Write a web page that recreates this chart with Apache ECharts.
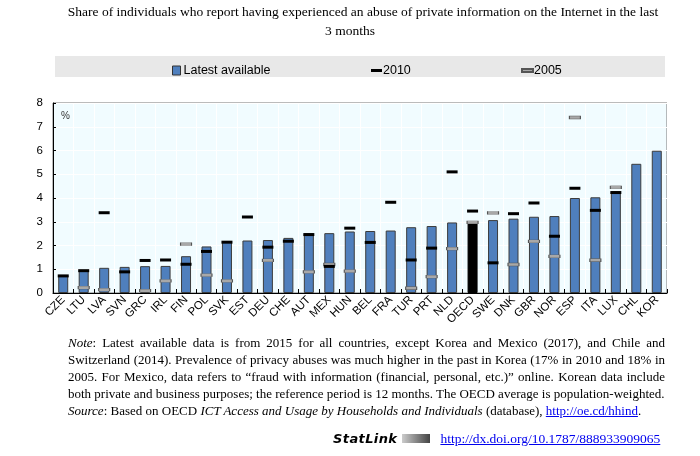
<!DOCTYPE html>
<html><head><meta charset="utf-8">
<script src="https://cdn.jsdelivr.net/npm/echarts@6/dist/echarts.min.js"></script>
<style>
html,body{margin:0;padding:0;background:#fff;width:700px;height:456px;overflow:hidden}
#c{position:absolute;left:0;top:0;width:700px;height:456px}
#note{position:absolute;left:68px;top:334px;width:597px;font-family:"Liberation Serif","Times New Roman",serif;font-size:13px;line-height:17px;text-align:justify;color:#000}
#stat{position:absolute;left:333px;top:431px;font-family:"Liberation Serif",serif;font-size:13.5px;color:#000;white-space:nowrap}
#stat b{font-family:"DejaVu Sans",sans-serif;font-style:italic;font-size:13px;letter-spacing:0.4px;margin-right:5px}
#stat .ic{display:inline-block;width:28px;height:9px;background:linear-gradient(90deg,#ccc,#444);margin-right:10px;vertical-align:0px}
a{color:#0000ee}
</style></head><body>
<div id="c"></div>
<div id="note"><i>Note</i>: Latest available data is from 2015 for all countries, except Korea and Mexico (2017), and Chile and Switzerland (2014). Prevalence of privacy abuses was much higher in the past in Korea (17% in 2010 and 18% in 2005. For Mexico, data refers to “fraud with information (financial, personal, etc.)” online. Korean data include both private and business purposes; the reference period is 12 months. The OECD average is population-weighted.<br><i>Source</i>: Based on OECD <i>ICT Access and Usage by Households and Individuals</i> (database), <a href="#">http://oe.cd/hhind</a>.</div>
<div id="stat"><b>StatLink</b><span class="ic"></span><a href="#">http://dx.doi.org/10.1787/888933909065</a></div>
<script>
const categories = ["CZE","LTU","LVA","SVN","GRC","IRL","FIN","POL","SVK","EST","DEU","CHE","AUT","MEX","HUN","BEL","FRA","TUR","PRT","NLD","OECD","SWE","DNK","GBR","NOR","ESP","ITA","LUX","CHL","KOR"];
const latest = [0.75,0.96,1.06,1.10,1.13,1.14,1.55,1.96,2.18,2.21,2.23,2.32,2.51,2.52,2.59,2.61,2.63,2.77,2.82,2.97,3.00,3.07,3.13,3.21,3.24,4.00,4.03,4.27,5.44,5.99];
const y2010 = [0.72,0.94,3.38,0.89,1.37,1.39,1.21,1.75,2.14,3.20,1.93,2.18,2.46,1.12,2.73,2.13,3.82,1.39,1.89,5.10,3.45,1.27,3.34,3.79,2.39,4.41,3.48,4.23,null,null];
const y2005 = [null,0.23,0.14,null,0.10,0.51,2.06,0.75,0.51,null,1.37,null,0.89,1.20,0.92,null,null,0.20,0.69,1.87,2.97,3.37,1.20,2.17,1.54,7.39,1.38,4.45,null,null];
const yTicks = [0,1,2,3,4,5,6,7,8];

const chart = echarts.init(document.getElementById('c'));
const barData = latest.map((v,i)=> categories[i]==='OECD' ? {value:v,itemStyle:{color:'#000',borderColor:'#000'}} : v);
const font = '"Liberation Sans", Arial, sans-serif';
const titleFont = '13.5px "Liberation Serif","Times New Roman",serif';
chart.setOption({
  animation:false,
  graphic:[
    {type:'text',x:363,y:5,style:{text:'Share of individuals who report having experienced an abuse of private information on the Internet in the last',
      align:'center',verticalAlign:'top',font:titleFont,fill:'#000'},silent:true},
    {type:'text',x:350,y:24,style:{text:'3 months',align:'center',verticalAlign:'top',font:titleFont,fill:'#000'},silent:true},
    {type:'rect',shape:{x:55,y:56,width:610,height:21},style:{fill:'#e8e8e8'},z:-1,silent:true},
    {type:'text',x:61,y:111,style:{text:'%',font:'10px "Liberation Sans", Arial',fill:'#333'}}
  ],
  legend:[
    {data:[{name:'Latest available',icon:'rect'}],left:167,top:59,itemWidth:8,itemHeight:9,itemGap:0,
      textStyle:{fontFamily:font,fontSize:12.5,color:'#000',padding:[0,0,0,-2]},itemStyle:{borderColor:'#333',borderWidth:1}},
    {data:[{name:'2010',icon:'rect'}],left:366,top:59,itemWidth:11,itemHeight:3,
      textStyle:{fontFamily:font,fontSize:12.5,color:'#000',padding:[0,0,0,-4]}},
    {data:[{name:'2005',icon:'rect'}],left:516,top:59,itemWidth:11,itemHeight:3,
      textStyle:{fontFamily:font,fontSize:12.5,color:'#000',padding:[0,0,0,-4]}}
  ],
  grid:{left:53,right:33,top:103,bottom:163,show:true,backgroundColor:'#f1fcff',borderColor:'#777',borderWidth:1},
  xAxis:{type:'category',data:categories,
    axisLine:{lineStyle:{color:'#000',width:1}},
    axisTick:{show:true,inside:true,length:4,lineStyle:{color:'#000'}},
    axisLabel:{rotate:45,fontFamily:font,fontSize:11.5,color:'#000',margin:5,interval:0},
    splitLine:{show:true,lineStyle:{color:'#ffffff',width:1}}},
  yAxis:{type:'value',min:yTicks[0],max:yTicks[yTicks.length-1],interval:1,
    axisLine:{show:true,lineStyle:{color:'#000'}},
    axisTick:{show:true,inside:true,length:3,lineStyle:{color:'#000'}},
    axisLabel:{fontFamily:font,fontSize:11.5,color:'#000',margin:10},
    splitLine:{show:true,lineStyle:{color:'#ffffff',width:1}}},
  series:[
    {name:'Latest available',type:'bar',data:barData,barWidth:10,
      itemStyle:{color:'#4f7fbd',borderColor:'#3c3c3c',borderWidth:1},z:2},
    {name:'2010',type:'scatter',data:y2010,symbol:'rect',symbolSize:[11,3],
      itemStyle:{color:'#000',opacity:1},z:4},
    {name:'2005',type:'scatter',data:y2005,symbol:'rect',symbolSize:[11,3],
      itemStyle:{color:'#a8a8a8',borderColor:'#555',borderWidth:0.6,opacity:1},z:3}
  ]
});
</script>
</body></html>
